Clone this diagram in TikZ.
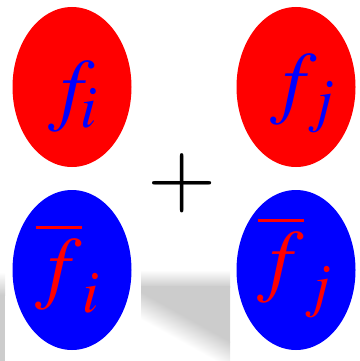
\documentclass[tikz,border=0pt]{standalone}
\usepackage{mathptmx}
\usetikzlibrary{shapes.geometric, shadings}

\tikzset{
    blob/.style={ellipse, minimum width=119pt, minimum height=160pt, inner sep=0pt},
    bigmath/.style={scale=8.1, inner sep=0pt, anchor=base west},
}

\begin{document}
\begin{tikzpicture}[x=1pt, y=-1pt]
    \useasboundingbox (0,0) rectangle (359,361);

    % grey smear at the bottom
    \shade[top color=white, bottom color=gray!40] (141,270) rectangle (230,287);
    \begin{scope}
        \clip (141,286) rectangle (230,361);
        \fill[gray!40, transform canvas={rotate around={-29:(185,330)}}]
            (60,240) rectangle (320,319);
        \shade[top color=gray!40, bottom color=white, transform canvas={rotate around={-29:(185,330)}}]
            (60,318) rectangle (320,342);
    \end{scope}
    \shade[top color=white, bottom color=gray!40] (0,272) rectangle (5,295);
    \fill[gray!40] (0,295) rectangle (5,361);

    \node[blob, fill=red]  (fi) at (72,87)   {};
    \node[blob, fill=red]  (fj) at (296,87)  {};
    \node[blob, fill=blue] (gi) at (72,270)  {};
    \node[blob, fill=blue] (gj) at (296,270) {};

    \node[bigmath, text=blue] (fitxt) at (47,115)  {$f_{\mkern-1.5mu i}$};
    \node[bigmath, text=blue] (fjtxt) at (269,108) {$f_j$};
    \node[bigmath, text=red]  (gitxt) at (34,293)  {$\overline{f}_i$};
    \node[bigmath, text=red]  (gjtxt) at (256,286) {$\overline{f}_j$};

    \node[scale=8.9, inner sep=0pt] (plus) at (182,183) {$+$};
\end{tikzpicture}
\end{document}
